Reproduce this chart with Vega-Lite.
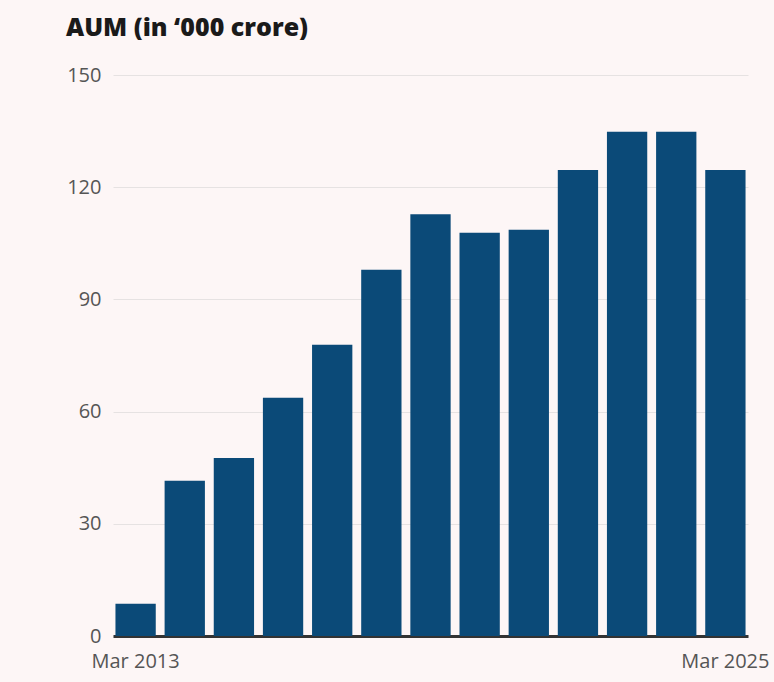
{
  "$schema": "https://vega.github.io/schema/vega-lite/v6.json",
  "autosize": {"type": "none"},
  "width": 635,
  "height": 561,
  "padding": {"left": 113, "top": 75, "right": 26, "bottom": 46},
  "background": "#fdf6f6",
  "title": {
    "text": "AUM (in ‘000 crore)",
    "anchor": "start",
    "frame": "group",
    "dx": -47,
    "offset": 24,
    "font": "Open Sans",
    "fontSize": 25,
    "fontWeight": 800,
    "color": "#1a1a1a"
  },
  "data": {
    "values": [
      {"period": "Mar 2013", "aum": 8.6},
      {"period": "Mar 2014", "aum": 41.5},
      {"period": "Mar 2015", "aum": 47.6},
      {"period": "Mar 2016", "aum": 63.7},
      {"period": "Mar 2017", "aum": 77.9},
      {"period": "Mar 2018", "aum": 97.9},
      {"period": "Mar 2019", "aum": 112.8},
      {"period": "Mar 2020", "aum": 107.8},
      {"period": "Mar 2021", "aum": 108.6},
      {"period": "Mar 2022", "aum": 124.6},
      {"period": "Mar 2023", "aum": 134.8},
      {"period": "Mar 2024", "aum": 134.8},
      {"period": "Mar 2025", "aum": 124.6}
    ]
  },
  "mark": {"type": "bar", "color": "#0b4a78"},
  "encoding": {
    "x": {
      "field": "period",
      "type": "ordinal",
      "sort": null,
      "scale": {"paddingInner": 0.18, "paddingOuter": 0.05},
      "axis": {
        "title": null,
        "labelAngle": 0,
        "ticks": false,
        "domainColor": "#333333",
        "domainWidth": 3,
        "labelExpr": "datum.value == 'Mar 2013' || datum.value == 'Mar 2025' ? datum.value : ''",
        "labelFont": "Open Sans",
        "labelFontSize": 20,
        "labelColor": "#555555",
        "labelPadding": 15,
        "labelOverlap": false
      }
    },
    "y": {
      "field": "aum",
      "type": "quantitative",
      "scale": {"domain": [0, 150], "nice": false},
      "axis": {
        "title": null,
        "values": [0, 30, 60, 90, 120, 150],
        "domain": false,
        "ticks": false,
        "gridColor": "#e6e2e2",
        "gridWidth": 1,
        "labelFont": "Open Sans",
        "labelFontSize": 20,
        "labelColor": "#555555",
        "labelPadding": 12
      }
    }
  },
  "config": {"view": {"stroke": null}}
}
